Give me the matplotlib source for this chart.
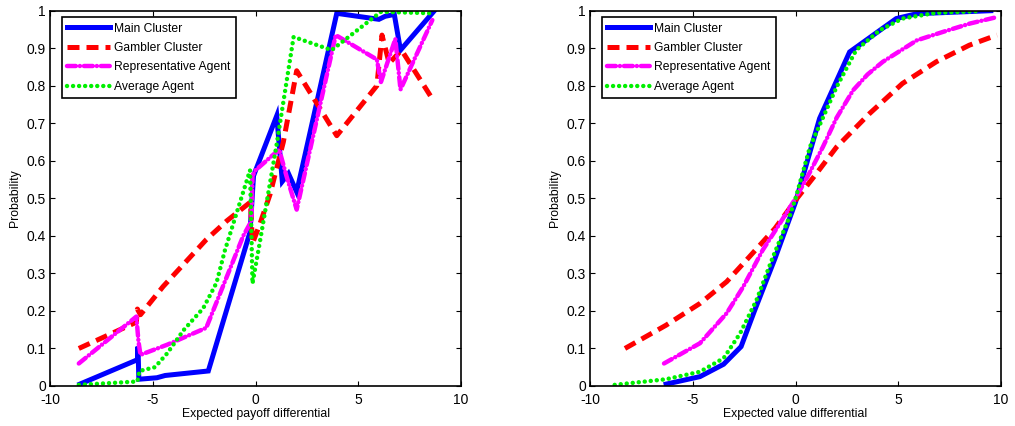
import matplotlib
matplotlib.use('Agg')
import matplotlib.pyplot as plt

plt.rcParams['font.family'] = ['Liberation Sans', 'DejaVu Sans']
plt.rcParams['font.size'] = 8
plt.rcParams['axes.unicode_minus'] = False

# ── Left panel: expected payoff differential ─────────────────────────
main_x_l = [-8.55, -5.75, -5.72, -5.68, -4.8, -4.4, -2.3, -0.27, -0.1, 1.03, 1.3, 1.6, 2.0, 3.95, 6.0, 6.3, 6.75, 7.05, 8.7]
main_y_l = [0.005, 0.07, 0.105, 0.018, 0.022, 0.028, 0.04, 0.41, 0.56, 0.72, 0.545, 0.566, 0.517, 0.993, 0.977, 0.985, 0.99, 0.895, 1.0]

gamb_x_l = [-8.6, -5.8, -5.75, -5.6, -4.5, -2.4, -1.4, -0.25, -0.15, 0.2, 0.7, 1.35, 2.0, 3.95, 5.9, 6.15, 6.5, 7.1, 8.6]
gamb_y_l = [0.10, 0.17, 0.205, 0.19, 0.265, 0.39, 0.44, 0.49, 0.38, 0.43, 0.51, 0.65, 0.84, 0.667, 0.80, 0.935, 0.86, 0.895, 0.765]

rep_x_l = [-8.6, -5.8, -5.7, -5.6, -4.3, -2.4, -0.6, -0.2, -0.15, 0.0, 1.15, 1.5, 2.0, 3.9, 5.9, 6.1, 6.8, 7.05, 8.6]
rep_y_l = [0.06, 0.185, 0.12, 0.083, 0.11, 0.155, 0.40, 0.44, 0.56, 0.575, 0.63, 0.56, 0.47, 0.935, 0.87, 0.81, 0.925, 0.79, 0.975]

avg_x_l = [-8.6, -5.75, -5.65, -4.9, -4.3, -3.5, -2.55, -1.9, -1.5, -0.27, -0.15, 0.14, 1.03, 1.85, 3.7, 6.1, 8.65]
avg_y_l = [0.003, 0.012, 0.04, 0.05, 0.087, 0.149, 0.207, 0.275, 0.36, 0.575, 0.273, 0.362, 0.645, 0.93, 0.895, 0.997, 0.993]

# ── Right panel: expected value differential ─────────────────────────
main_x_r = [-6.3, -4.65, -3.5, -2.65, -2.0, -1.0, 0.0, 1.17, 2.63, 4.9, 5.9, 9.5]
main_y_r = [0.005, 0.025, 0.058, 0.105, 0.2, 0.34, 0.49, 0.713, 0.89, 0.979, 0.992, 1.0]

gamb_x_r = [-8.3, -6.3, -4.65, -3.35, -2.25, -1.0, 0.0, 1.0, 2.0, 3.6, 5.2, 6.85, 8.45, 9.8]
gamb_y_r = [0.10, 0.162, 0.22, 0.278, 0.344, 0.42, 0.495, 0.565, 0.637, 0.726, 0.806, 0.864, 0.908, 0.935]

rep_x_r = [-6.4, -4.65, -3.35, -2.55, -1.6, -0.8, 0.0, 0.7, 1.33, 2.0, 2.8, 3.5, 4.25, 5.0, 5.9, 7.2, 8.5, 9.8]
rep_y_r = [0.06, 0.114, 0.194, 0.264, 0.362, 0.43, 0.5, 0.57, 0.637, 0.715, 0.788, 0.83, 0.864, 0.89, 0.921, 0.944, 0.966, 0.983]

avg_x_r = [-8.8, -6.3, -4.65, -3.5, -2.7, -1.9, -1.1, -0.3, 0.0, 0.7, 2.0, 2.95, 4.1, 5.2, 6.8, 9.0]
avg_y_r = [0.003, 0.018, 0.038, 0.074, 0.14, 0.229, 0.344, 0.45, 0.5, 0.637, 0.797, 0.895, 0.948, 0.979, 0.994, 0.999]

labels = ["Main Cluster", "Gambler Cluster", "Representative Agent", "Average Agent"]
xlabels = ["Expected payoff differential", "Expected value differential"]

fig = plt.figure(figsize=(10.15, 4.26), dpi=100)
ax_l = fig.add_axes([0.0493, 0.0939, 0.405, 0.881])
ax_r = fig.add_axes([0.5813, 0.0939, 0.405, 0.881])

panels = [
    (ax_l, (main_x_l, main_y_l), (gamb_x_l, gamb_y_l), (rep_x_l, rep_y_l), (avg_x_l, avg_y_l)),
    (ax_r, (main_x_r, main_y_r), (gamb_x_r, gamb_y_r), (rep_x_r, rep_y_r), (avg_x_r, avg_y_r)),
]

for i, (ax, main, gamb, rep, avg) in enumerate(panels):
    ax.plot(*main, color="#0000ff", lw=3.6, solid_joinstyle="miter", label=labels[0])
    ax.plot(*gamb, color="#ff0000", lw=3.6, dashes=(2.4, 1.4), label=labels[1])
    ax.plot(*rep, color="#ff00ff", lw=3.2, dashes=(2.0, 0.9, 0.01, 0.9),
            dash_capstyle="round", label=labels[2])
    ax.plot(*avg, color="#00f000", lw=3.2, dashes=(0.01, 1.35),
            dash_capstyle="round", label=labels[3])

    ax.set_xlim(-10, 10)
    ax.set_ylim(0, 1)
    ax.set_xticks([-10, -5, 0, 5, 10])
    ax.set_yticks([k / 10 for k in range(11)])
    ax.set_yticklabels(["0"] + [f"{k / 10:.1f}" for k in range(1, 10)] + ["1"])
    ax.tick_params(direction="in", length=3.5, width=0.8, top=True, right=True,
                   labelsize=10, colors="black")
    ax.tick_params(axis="x", pad=5)
    ax.tick_params(axis="y", pad=3)
    for s in ax.spines.values():
        s.set_linewidth(1.2)
    ax.set_xlabel(xlabels[i], fontsize=8.8, labelpad=1)
    ax.set_ylabel("Probability", fontsize=8.8, labelpad=4)

    leg = ax.legend(loc="upper left", bbox_to_anchor=(0.029, 0.983), borderaxespad=0,
                    fontsize=8.7, handlelength=3.5, handletextpad=0.35,
                    labelspacing=0.62, borderpad=0.45, fancybox=False,
                    framealpha=1, edgecolor="black")
    leg.get_frame().set_linewidth(1.2)

fig.savefig("out.png", dpi=100)
